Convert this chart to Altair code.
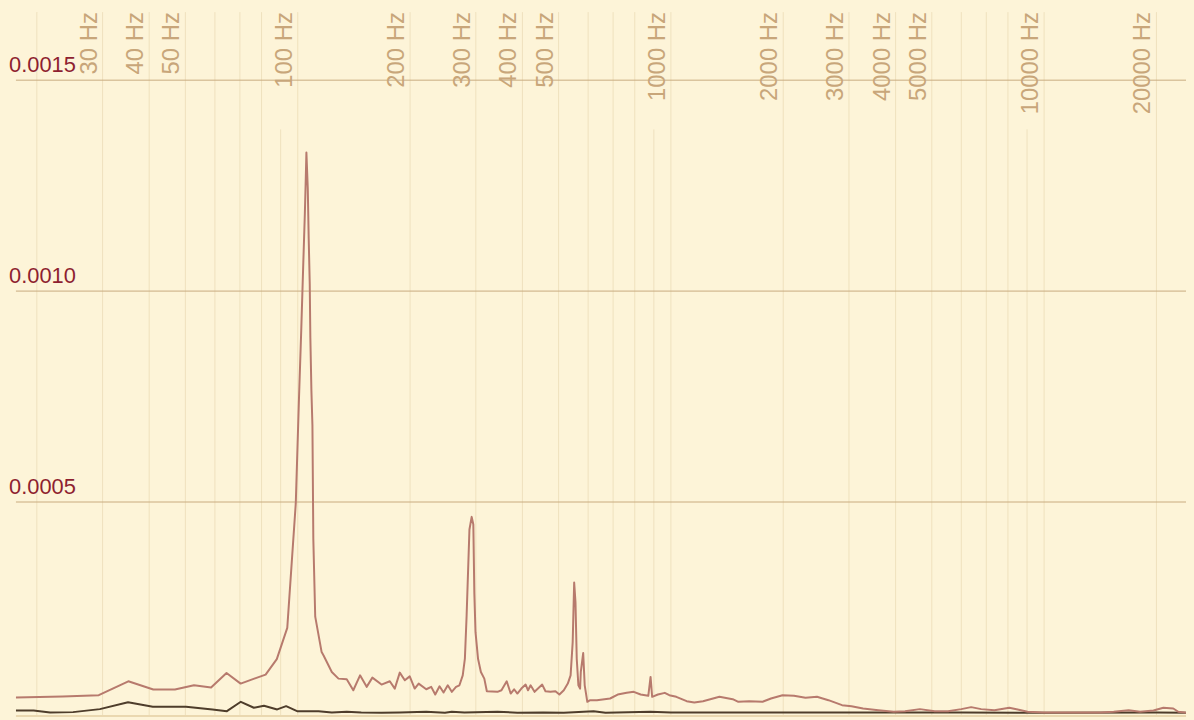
import altair as alt
import pandas as pd
import jinja2

# ---------------- data ----------------
# upper (rose) spectrum: frequency in Hz, amplitude
spec_freq = [
    17.58, 23.44, 29.30, 35.16, 41.02, 46.88, 52.73, 58.59, 64.45, 70.31,
    76.17, 82.03, 87.89, 93.75, 98.8, 100.8, 102.2, 103.5, 104.5, 105.1,
    105.5, 106.4, 107.0, 107.7, 108.1, 108.8, 109.5, 110.1, 111.4, 115.9,
    117.3, 123.4, 128.6, 135.3, 140.9, 146.9, 153.0, 158.5, 167.7, 176.5,
    182.0, 187.7, 193.6, 199.6, 205.8, 210.9, 221.0, 227.9, 233.6, 239.9,
    245.9, 252.4, 258.7, 265.6, 271.2, 276.8, 280.5, 283.5, 288.5, 292.5,
    295.5, 297.3, 299.5, 304.2, 309.6, 316.2, 321.2, 343.0, 351.5, 363.1,
    372.1, 380.0, 387.8, 397.4, 408.1, 414.1, 420.7, 431.1, 452.0, 461.2,
    475.6, 490.4, 502.6, 516.4, 529.3, 538.5, 545.5, 550.5, 555.0, 559.3,
    565.0, 571.0, 573.5, 582.0, 587.5, 597.0, 607.7, 633.5, 687.1, 720.0,
    761.3, 795.2, 829.6, 869.7, 882.0, 890.7, 922.9, 962.8, 990.2, 1034,
    1102, 1155, 1219, 1349, 1464, 1516, 1621, 1760, 1854, 1991,
    2137, 2294, 2463, 2643, 2875, 3047, 3272, 3596, 3954, 4239,
    4647, 5095, 5527, 5999, 6377, 6782, 7358, 8068, 8491, 9026,
    10000, 11079, 12522, 14158, 15366, 16843, 18090, 19634, 20872, 22189,
    22879, 23839, 24000,
]
spec_amp = [
    3.65e-05, 3.89e-05, 4.20e-05, 7.50e-05, 5.54e-05, 5.54e-05, 6.55e-05, 6.01e-05, 9.48e-05, 6.95e-05,
    8.08e-05, 9.07e-05, 1.275e-04, 2.015e-04, 4.966e-04, 7.483e-04, 9.077e-04, 1.067e-03, 1.184e-03, 1.268e-03,
    1.3286e-03, 1.243e-03, 1.1257e-03, 1.0166e-03, 8.907e-04, 7.648e-04, 6.812e-04, 4.127e-04, 2.282e-04, 1.442e-04,
    1.362e-04, 9.71e-05, 8.13e-05, 7.97e-05, 5.37e-05, 8.91e-05, 6.18e-05, 8.37e-05, 6.72e-05, 7.50e-05,
    5.77e-05, 9.55e-05, 7.73e-05, 8.67e-05, 5.77e-05, 6.95e-05, 5.61e-05, 6.18e-05, 4.36e-05, 6.32e-05,
    4.83e-05, 6.55e-05, 5.00e-05, 6.18e-05, 6.55e-05, 8.91e-05, 1.285e-04, 2.305e-04, 4.349e-04, 4.648e-04,
    4.466e-04, 2.857e-04, 1.914e-04, 1.285e-04, 9.71e-05, 8.13e-05, 5.14e-05, 5.00e-05, 5.37e-05, 7.50e-05,
    4.60e-05, 5.61e-05, 4.60e-05, 5.77e-05, 6.72e-05, 5.37e-05, 6.55e-05, 5.00e-05, 6.72e-05, 5.14e-05,
    5.00e-05, 5.14e-05, 4.36e-05, 5.37e-05, 6.95e-05, 8.91e-05, 1.678e-04, 3.092e-04, 2.621e-04, 1.285e-04,
    6.55e-05, 5.77e-05, 9.71e-05, 1.419e-04, 6.55e-05, 2.64e-05, 3.02e-05, 3.02e-05, 3.42e-05, 4.36e-05,
    4.76e-05, 5.00e-05, 4.36e-05, 4.05e-05, 8.53e-05, 3.82e-05, 4.36e-05, 4.76e-05, 4.20e-05, 3.82e-05,
    2.78e-05, 2.47e-05, 2.78e-05, 3.82e-05, 3.25e-05, 2.64e-05, 2.78e-05, 2.64e-05, 3.42e-05, 4.20e-05,
    4.05e-05, 3.58e-05, 3.82e-05, 3.02e-05, 1.84e-05, 1.60e-05, 1.06e-05, 6.6e-06, 2.8e-06, 4.2e-06,
    9.0e-06, 4.2e-06, 4.2e-06, 9.0e-06, 1.37e-05, 9.0e-06, 6.6e-06, 1.23e-05, 8.3e-06, 2.8e-06,
    8.0e-07, 8.0e-07, 1.2e-06, 1.2e-06, 2.8e-06, 6.6e-06, 2.8e-06, 5.9e-06, 1.23e-05, 1.06e-05,
    2.8e-06, 8.0e-07, 5.0e-07,
]

# lower (dark) spectrum
floor_freq = [
    17.58, 19.6, 21.7, 25.0, 29.5, 35.1, 40.9, 50.2, 59.1, 64.6,
    70.4, 76.3, 81.2, 88.1, 93.1, 99.6, 113.7, 123.4, 135.3, 148.0,
    167.7, 187.7, 221.0, 248.0, 258.7, 279.7, 343.0, 387.8, 455.0, 516.4,
    620.6, 668.0, 882.0, 1000, 2000, 4000, 6000, 10000, 20000, 24000,
]
floor_amp = [
    5.9e-06, 5.9e-06, 1.2e-06, 1.9e-06, 9.0e-06, 2.55e-05, 1.46e-05, 1.46e-05, 8.3e-06, 4.2e-06,
    2.64e-05, 1.23e-05, 1.70e-05, 8.3e-06, 1.60e-05, 4.2e-06, 4.2e-06, 1.0e-06, 2.8e-06, 1.0e-06,
    5.0e-07, 1.2e-06, 2.8e-06, 5.0e-07, 2.8e-06, 1.0e-06, 2.8e-06, 5.0e-07, 1.2e-06, 5.0e-07,
    4.2e-06, 5.0e-07, 2.8e-06, 8.0e-07, 1.0e-06, 8.0e-07, 1.0e-06, 5.0e-07, 8.0e-07, 5.0e-07,
]

grid_freqs = [20, 30, 40, 50, 60, 70, 80, 100, 200, 300, 400, 500, 600, 700, 800,
              1000, 2000, 3000, 4000, 5000, 6000, 7000, 8000, 10000, 20000]
short_grid_freqs = [90, 900, 9000]
label_freqs = [30, 40, 50, 100, 200, 300, 400, 500, 1000, 2000, 3000, 4000, 5000, 10000, 20000]
label_texts = ["30 Hz", "40 Hz", "50 Hz", "100 Hz", "200 Hz", "300 Hz", "400 Hz", "500 Hz",
               "1000 Hz", "2000 Hz", "3000 Hz", "4000 Hz", "5000 Hz", "10000 Hz", "20000 Hz"]
y_ticks = [0.0005, 0.0010, 0.0015]
y_tick_texts = ["0.0005", "0.0010", "0.0015"]

# ---------------- chart ----------------
W, H = 1177, 704
BG = "#fdf4d8"
FONT = "Liberation Sans"

xs = alt.Scale(type="log", domain=[17.578125, 24000], nice=False, zero=False)
ys = alt.Scale(domain=[0, 0.001659], nice=False, zero=False)

spec_df = pd.DataFrame({"f": spec_freq, "v": spec_amp})
floor_df = pd.DataFrame({"f": floor_freq, "v": floor_amp})
grid_df = pd.DataFrame({"f": grid_freqs})
short_df = pd.DataFrame({"f": short_grid_freqs})
lab_df = pd.DataFrame({"f": label_freqs, "t": label_texts})
ylab_df = pd.DataFrame({"v": y_ticks, "t": y_tick_texts})
one_df = pd.DataFrame({"k": [0]})

vgrid = alt.Chart(grid_df).mark_rule(color="#efe1bd", strokeWidth=1).encode(
    x=alt.X("f:Q", scale=xs, axis=None), y=alt.value(-1), y2=alt.value(H + 3))
vshort = alt.Chart(short_df).mark_rule(color="#efe1bd", strokeWidth=1).encode(
    x=alt.X("f:Q", scale=xs, axis=None), y=alt.value(117), y2=alt.value(H + 3))
hgrid = alt.Chart(ylab_df).mark_rule(color="#c9ab80", strokeWidth=1).encode(
    y=alt.Y("v:Q", scale=ys, axis=None))
bottom = alt.Chart(one_df).mark_rule(color="#ead8b0", strokeWidth=2).encode(
    x=alt.value(0), x2=alt.value(W), y=alt.value(H + 3))

xlab = alt.Chart(lab_df).mark_text(
    angle=270, align="right", baseline="alphabetic", dy=-6,
    fontSize=24, font=FONT, color="#c8a67a").encode(
    x=alt.X("f:Q", scale=xs, axis=None), y=alt.value(-1), text="t:N")

ylab = alt.Chart(ylab_df).mark_text(
    align="left", baseline="alphabetic", dy=-8,
    fontSize=22, font=FONT, color="#8e1f30").encode(
    x=alt.value(-7), y=alt.Y("v:Q", scale=ys, axis=None), text="t:N")

floor_line = alt.Chart(floor_df).mark_line(color="#4e3d2b", strokeWidth=2, strokeJoin="round").encode(
    x=alt.X("f:Q", scale=xs, axis=None), y=alt.Y("v:Q", scale=ys, axis=None))
spec_line = alt.Chart(spec_df).mark_line(color="#b77a6d", strokeWidth=2, strokeJoin="round").encode(
    x=alt.X("f:Q", scale=xs, axis=None), y=alt.Y("v:Q", scale=ys, axis=None))

chart = alt.layer(vgrid, vshort, hgrid, bottom, xlab, floor_line, spec_line, ylab).properties(
    width=W, height=H,
    autosize=alt.AutoSizeParams(type="none"),
    padding={"left": 8, "top": 3, "right": 0, "bottom": 6},
).configure(background=BG).configure_view(stroke=None)


# page template: the standard one, with the page itself painted in the chart background
def _standard_template():
    from altair.utils import html as _h
    tpls = getattr(_h, "TEMPLATES", None)
    if tpls and "standard" in tpls:
        return tpls["standard"]
    return _h.HTML_TEMPLATE


class _BgTemplate(jinja2.Template):
    def render(self, *args, **kwargs):
        page = _standard_template().render(*args, **kwargs)
        style = "<style>html, body { background: %s; }</style>" % BG
        if "<head>" in page:
            return page.replace("<head>", "<head>\n" + style, 1)
        return style + page


_bg_template = _BgTemplate("{{ x }}")

try:
    chart.save("out.html", embed_options={"renderer": "svg", "actions": False}, template=_bg_template)
except Exception:
    chart.save("out.html", embed_options={"renderer": "svg", "actions": False})
